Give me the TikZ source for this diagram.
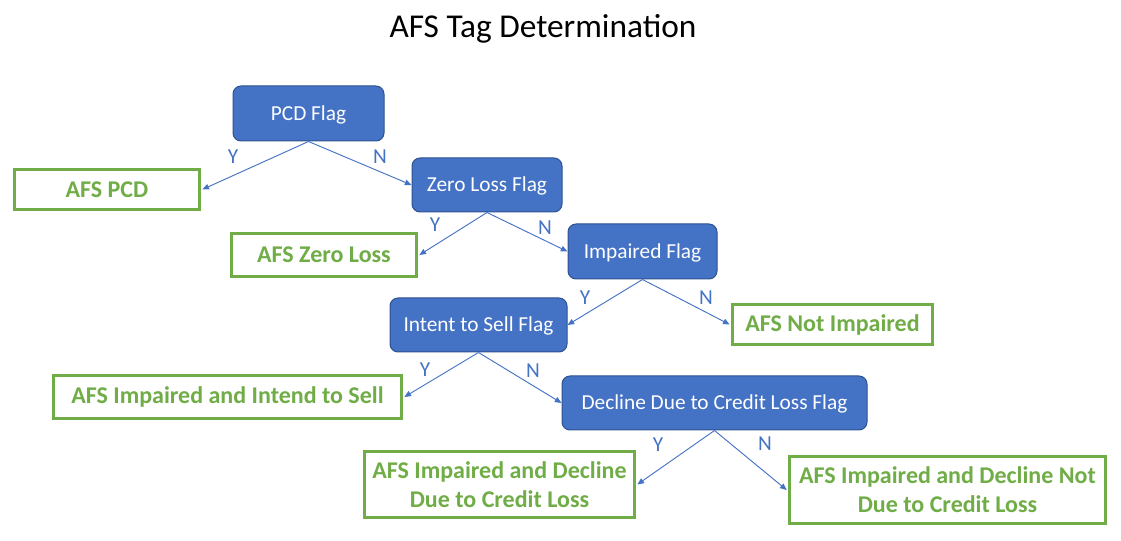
\documentclass[tikz,border=0pt]{standalone}
\usepackage{fontspec}
\setmainfont{Carlito}
\usetikzlibrary{arrows.meta}
\definecolor{flagblue}{HTML}{4472C4}
\definecolor{flagedge}{HTML}{2F528F}
\definecolor{tagreen}{HTML}{70AD47}
\tikzset{
  sz/.style 2 args={minimum width={(#1)*0.75pt}, minimum height={(#2)*0.75pt}},
  gsz/.style 2 args={minimum width={(#1-3)*0.75pt}, minimum height={(#2-3)*0.75pt}},
  flag/.style={draw=flagedge, line width=0.75pt, fill=flagblue, rounded corners=6pt,
    text=white, font=\fontsize{16}{19}\selectfont, inner sep=0pt, align=center,
    text height=12.5pt, text depth=2.5pt},
  tagbox/.style={draw=tagreen, line width=2.25pt, fill=white, text=tagreen,
    font=\fontsize{18}{21.8}\selectfont\bfseries, inner sep=0pt, align=center},
  conn/.style={draw=flagblue, line width=0.7pt, -{Triangle[length=5pt,width=4.2pt]}},
  yn/.style={text=flagblue, font=\fontsize{16}{18}\selectfont, inner sep=0pt}
}
\begin{document}
\begin{tikzpicture}[x=0.75pt, y=-0.75pt]
\useasboundingbox (0,0) rectangle (1121,541);
\node[font=\fontsize{25}{30}\selectfont] (title) at (543,29) {AFS Tag Determination};

\node[flag, sz={151}{55}] (pcd) at (308.5,113.5) {PCD Flag};
\node[flag, sz={150}{54}] (zero) at (487,185) {Zero Loss Flag};
\node[flag, sz={149}{55}] (imp) at (642.5,251.5) {Impaired Flag};
\node[flag, sz={177}{54}] (sell) at (478.5,325) {Intent to Sell Flag};
\node[flag, sz={305}{54}] (decl) at (714.5,403) {Decline Due to Credit Loss Flag};

\node[tagbox, gsz={188}{43}] (tpcd) at (107,189.5) {AFS PCD};
\node[tagbox, gsz={188}{46}] (tzero) at (324,255) {AFS Zero Loss};
\node[tagbox, gsz={203}{43}] (tnot) at (832.5,324.5) {AFS Not Impaired};
\node[tagbox, gsz={351}{46}] (tsell) at (227.5,397) {AFS Impaired and Intend to Sell};
\node[tagbox, gsz={273}{69}] (tdy) at (499.5,484.5) {AFS Impaired and Decline\\Due to Credit Loss};
\node[tagbox, gsz={319}{70}] (tdn) at (947.5,490) {AFS Impaired and Decline Not\\Due to Credit Loss};

\draw[conn] (pcd.south) -- ([xshift=1pt]tpcd.east);
\draw[conn] (pcd.south) -- (zero.west);
\draw[conn] (zero.south) -- ([xshift=1pt]tzero.east);
\draw[conn] (zero.south) -- (imp.west);
\draw[conn] (imp.south) -- (sell.east);
\draw[conn] (imp.south) -- ([xshift=-1pt]tnot.west);
\draw[conn] (sell.south) -- ([xshift=1pt]tsell.east);
\draw[conn] (sell.south) -- (decl.west);
\draw[conn] (decl.south) -- ([xshift=1pt]tdy.east);
\draw[conn] (decl.south) -- ([xshift=-1pt]tdn.west);

\node[yn] (y1) at (233,157) {Y};
\node[yn] (n1) at (380,157) {N};
\node[yn] (y2) at (435,225) {Y};
\node[yn] (n2) at (545,228) {N};
\node[yn] (y3) at (585,298) {Y};
\node[yn] (n3) at (706,298) {N};
\node[yn] (y4) at (425,370) {Y};
\node[yn] (n4) at (533,371) {N};
\node[yn] (y5) at (658,445) {Y};
\node[yn] (n5) at (765,444) {N};
\end{tikzpicture}
\end{document}
